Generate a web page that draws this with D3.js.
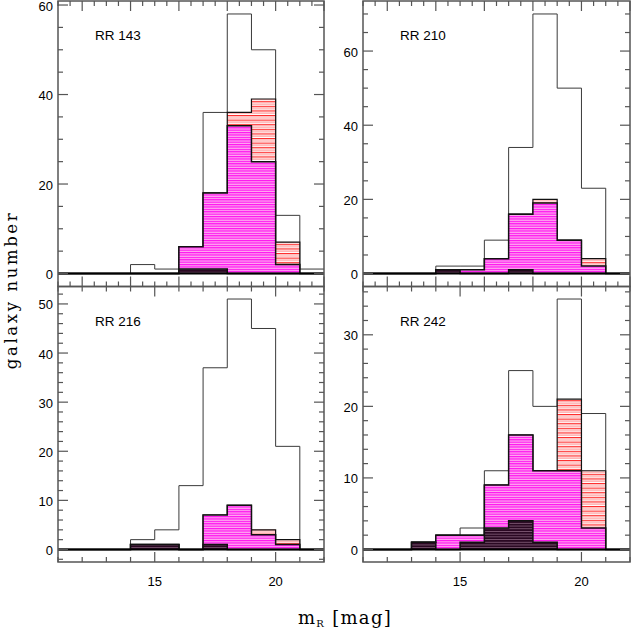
<!DOCTYPE html>
<html>
<head>
<meta charset="utf-8">
<script src="https://cdn.jsdelivr.net/npm/d3@7"></script>
<style>
  body { margin: 0; background: white; }
  svg { display: block; }
</style>
</head>
<body>
<svg id="chart" width="631" height="631"></svg>
<script>
// bin lower edges (bins are 1 mag wide)
var bin_edges = [11, 12, 13, 14, 15, 16, 17, 18, 19, 20, 21];

var panel_names = ["RR 143", "RR 210", "RR 216", "RR 242"];

// all galaxies
var total_143 = [0, 0, 0, 2, 1, 6, 36, 58, 50, 13, 1];
var total_210 = [0, 0, 0, 2, 2, 9, 34, 70, 50, 23, 0];
var total_216 = [0, 0, 0, 2, 4, 13, 37, 51, 45, 21, 0];
var total_242 = [0, 0, 1, 2, 3, 11, 25, 20, 35, 19, 0];

// red hatched subset
var red_143 = [0, 0, 0, 0, 0, 6, 18, 36, 39, 7, 0];
var red_210 = [0, 0, 0, 1, 1, 4, 16, 20, 9, 4, 0];
var red_216 = [0, 0, 0, 1, 1, 0, 7, 9, 4, 2, 0];
var red_242 = [0, 0, 1, 2, 2, 9, 16, 11, 21, 11, 0];

// magenta subset
var mag_143 = [0, 0, 0, 0, 0, 6, 18, 33, 25, 2, 0];
var mag_210 = [0, 0, 0, 1, 1, 4, 16, 19, 9, 2, 0];
var mag_216 = [0, 0, 0, 1, 1, 0, 7, 9, 3, 1, 0];
var mag_242 = [0, 0, 1, 2, 2, 9, 16, 11, 11, 3, 0];

// dark subset
var dark_143 = [0, 0, 0, 0, 0, 1, 1, 0, 0, 0, 0];
var dark_210 = [0, 0, 0, 1, 0, 0, 1, 0, 0, 0, 0];
var dark_216 = [0, 0, 0, 1, 1, 0, 1, 0, 0, 0, 0];
var dark_242 = [0, 0, 1, 0, 1, 3, 4, 1, 0, 0, 0];

var y_label_ticks_143 = [0, 20, 40, 60];
var y_label_ticks_210 = [0, 20, 40, 60];
var y_label_ticks_216 = [0, 10, 20, 30, 40, 50];
var y_label_ticks_242 = [0, 10, 20, 30];
var x_label_ticks = [15, 20];

var x_domain = [11, 22];

var svg = d3.select("#chart");
var defs = svg.append("defs");

// hatch patterns (horizontal lines)
function makeHatch(id, h, bg, lines) {
  var p = defs.append("pattern")
    .attr("id", id)
    .attr("patternUnits", "userSpaceOnUse")
    .attr("width", 8)
    .attr("height", h);
  p.append("rect").attr("width", 8).attr("height", h).attr("fill", bg);
  lines.forEach(function(l) {
    p.append("rect").attr("y", l[0]).attr("width", 8).attr("height", l[1]).attr("fill", l[2]);
  });
}
makeHatch("hatch_red", 4.6, "#ffffff", [[0, 1.2, "#ff2a2a"], [2.3, 1.2, "#ffa0a0"]]);
makeHatch("hatch_mag", 2.4, "#ffb0f0", [[0, 1.2, "#ff10f0"]]);
makeHatch("hatch_dark", 2.7, "#7a5670", [[0, 1.8, "#2a0822"]]);

var panels = [
  { name: panel_names[0], total: total_143, red: red_143, mag: mag_143, dark: dark_143,
    x0: 58, x1: 324, y0: 1, y1: 286.5, ymaj: 20, ymin: 5, ylab: y_label_ticks_143,
    xmaj: 2, xmin: 0.5, xlab: false },
  { name: panel_names[1], total: total_210, red: red_210, mag: mag_210, dark: dark_210,
    x0: 363, x1: 630, y0: 1, y1: 286.5, ymaj: 20, ymin: 5, ylab: y_label_ticks_210,
    xmaj: 2, xmin: 0.5, xlab: false },
  { name: panel_names[2], total: total_216, red: red_216, mag: mag_216, dark: dark_216,
    x0: 58, x1: 324, y0: 286.5, y1: 562, ymaj: 10, ymin: 2, ylab: y_label_ticks_216,
    xmaj: 5, xmin: 1, xlab: true },
  { name: panel_names[3], total: total_242, red: red_242, mag: mag_242, dark: dark_242,
    x0: 363, x1: 630, y0: 286.5, y1: 562, ymaj: 10, ymin: 2, ylab: y_label_ticks_242,
    xmaj: 5, xmin: 1, xlab: true }
];

var frame_color = "#555";

function tickValues(lo, hi, step) {
  var out = [];
  var start = Math.ceil(lo / step - 1e-9) * step;
  for (var v = start; v <= hi + 1e-9; v += step) {
    out.push(Math.round(v * 1000) / 1000);
  }
  return out;
}

function stepData(values) {
  var pts = bin_edges.map(function(e, i) { return { x: e, v: values[i] }; });
  pts.push({ x: x_domain[1], v: values[values.length - 1] });
  return pts;
}

panels.forEach(function(p, pi) {
  var ymax = d3.max(p.total);
  var x = d3.scaleLinear().domain(x_domain).range([p.x0, p.x1]);
  var y = d3.scaleLinear().domain([-0.05 * ymax, 1.05 * ymax]).range([p.y1, p.y0]);

  var g = svg.append("g");

  defs.append("clipPath").attr("id", "clip" + pi)
    .append("rect")
    .attr("x", p.x0).attr("y", p.y0)
    .attr("width", p.x1 - p.x0).attr("height", p.y1 - p.y0);

  var plot = g.append("g").attr("clip-path", "url(#clip" + pi + ")");

  var area = d3.area()
    .curve(d3.curveStepAfter)
    .x(function(d) { return x(d.x); })
    .y0(y(0))
    .y1(function(d) { return y(d.v); });

  var line = d3.line()
    .curve(d3.curveStepAfter)
    .x(function(d) { return x(d.x); })
    .y(function(d) { return y(d.v); });

  // total histogram outline
  plot.append("path")
    .attr("d", line(stepData(p.total)))
    .attr("fill", "none")
    .attr("stroke", "#3a3a3a")
    .attr("stroke-width", 1);

  // nested subsets
  [["red", "hatch_red", 1.2], ["mag", "hatch_mag", 1.5], ["dark", "hatch_dark", 1.5]].forEach(function(s) {
    plot.append("path")
      .attr("d", area(stepData(p[s[0]])))
      .attr("fill", "url(#" + s[1] + ")")
      .attr("stroke", "none");
    plot.append("path")
      .attr("d", line(stepData(p[s[0]])))
      .attr("fill", "none")
      .attr("stroke", "#111")
      .attr("stroke-width", s[2]);
  });

  // zero line
  plot.append("line")
    .attr("x1", x(x_domain[0])).attr("x2", x(x_domain[1]))
    .attr("y1", y(0)).attr("y2", y(0))
    .attr("stroke", "black")
    .attr("stroke-width", 2);

  // ticks on all four sides, pointing inwards
  var tg = g.append("g").attr("stroke", frame_color).attr("stroke-width", 1.2);
  tickValues(x_domain[0], x_domain[1], p.xmin).forEach(function(v) {
    var isMaj = Math.abs(v / p.xmaj - Math.round(v / p.xmaj)) < 1e-6;
    var len = isMaj ? 10 : 5;
    tg.append("line").attr("x1", x(v)).attr("x2", x(v)).attr("y1", p.y1).attr("y2", p.y1 - len);
    tg.append("line").attr("x1", x(v)).attr("x2", x(v)).attr("y1", p.y0).attr("y2", p.y0 + len);
  });
  tickValues(y.domain()[0], y.domain()[1], p.ymin).forEach(function(v) {
    var isMaj = Math.abs(v / p.ymaj - Math.round(v / p.ymaj)) < 1e-6;
    var len = isMaj ? 10 : 5;
    tg.append("line").attr("x1", p.x0).attr("x2", p.x0 + len).attr("y1", y(v)).attr("y2", y(v));
    tg.append("line").attr("x1", p.x1).attr("x2", p.x1 - len).attr("y1", y(v)).attr("y2", y(v));
  });

  // frame
  g.append("rect")
    .attr("x", p.x0).attr("y", p.y0)
    .attr("width", p.x1 - p.x0).attr("height", p.y1 - p.y0)
    .attr("fill", "none")
    .attr("stroke", frame_color)
    .attr("stroke-width", 1.5);

  // y tick labels
  g.selectAll("text.ylab").data(p.ylab).enter().append("text")
    .attr("class", "ylab")
    .attr("x", p.x0 - 5)
    .attr("y", function(d) { return y(d) + 5.5; })
    .attr("text-anchor", "end")
    .style("font-family", "'Liberation Sans', Arial, sans-serif")
    .style("font-size", "13px")
    .text(function(d) { return d; });

  // x tick labels (bottom row only)
  if (p.xlab) {
    g.selectAll("text.xlab").data(x_label_ticks).enter().append("text")
      .attr("class", "xlab")
      .attr("x", function(d) { return x(d); })
      .attr("y", p.y1 + 24)
      .attr("text-anchor", "middle")
      .style("font-family", "'Liberation Sans', Arial, sans-serif")
      .style("font-size", "13px")
      .text(function(d) { return d; });
  }

  // panel name
  g.append("text")
    .attr("x", p.x0 + 37)
    .attr("y", p.y0 + 39)
    .style("font-family", "'Liberation Sans', Arial, sans-serif")
    .style("font-size", "13.5px")
    .text(p.name);
});

// axis titles
svg.append("text")
  .attr("transform", "translate(17,290) rotate(-90)")
  .attr("text-anchor", "middle")
  .style("font-family", "'DejaVu Serif', serif")
  .style("font-size", "16.5px")
  .style("letter-spacing", "2.6px")
  .text("galaxy number");

var xt = svg.append("text")
  .attr("x", 345)
  .attr("y", 624)
  .attr("text-anchor", "middle")
  .style("font-family", "'DejaVu Serif', serif")
  .style("font-size", "18px")
  .style("letter-spacing", "1.3px");
xt.append("tspan").text("m");
xt.append("tspan").attr("dy", 3).style("font-size", "10px").text("R");
xt.append("tspan").attr("dy", -3).text(" [mag]");
</script>
</body>
</html>
